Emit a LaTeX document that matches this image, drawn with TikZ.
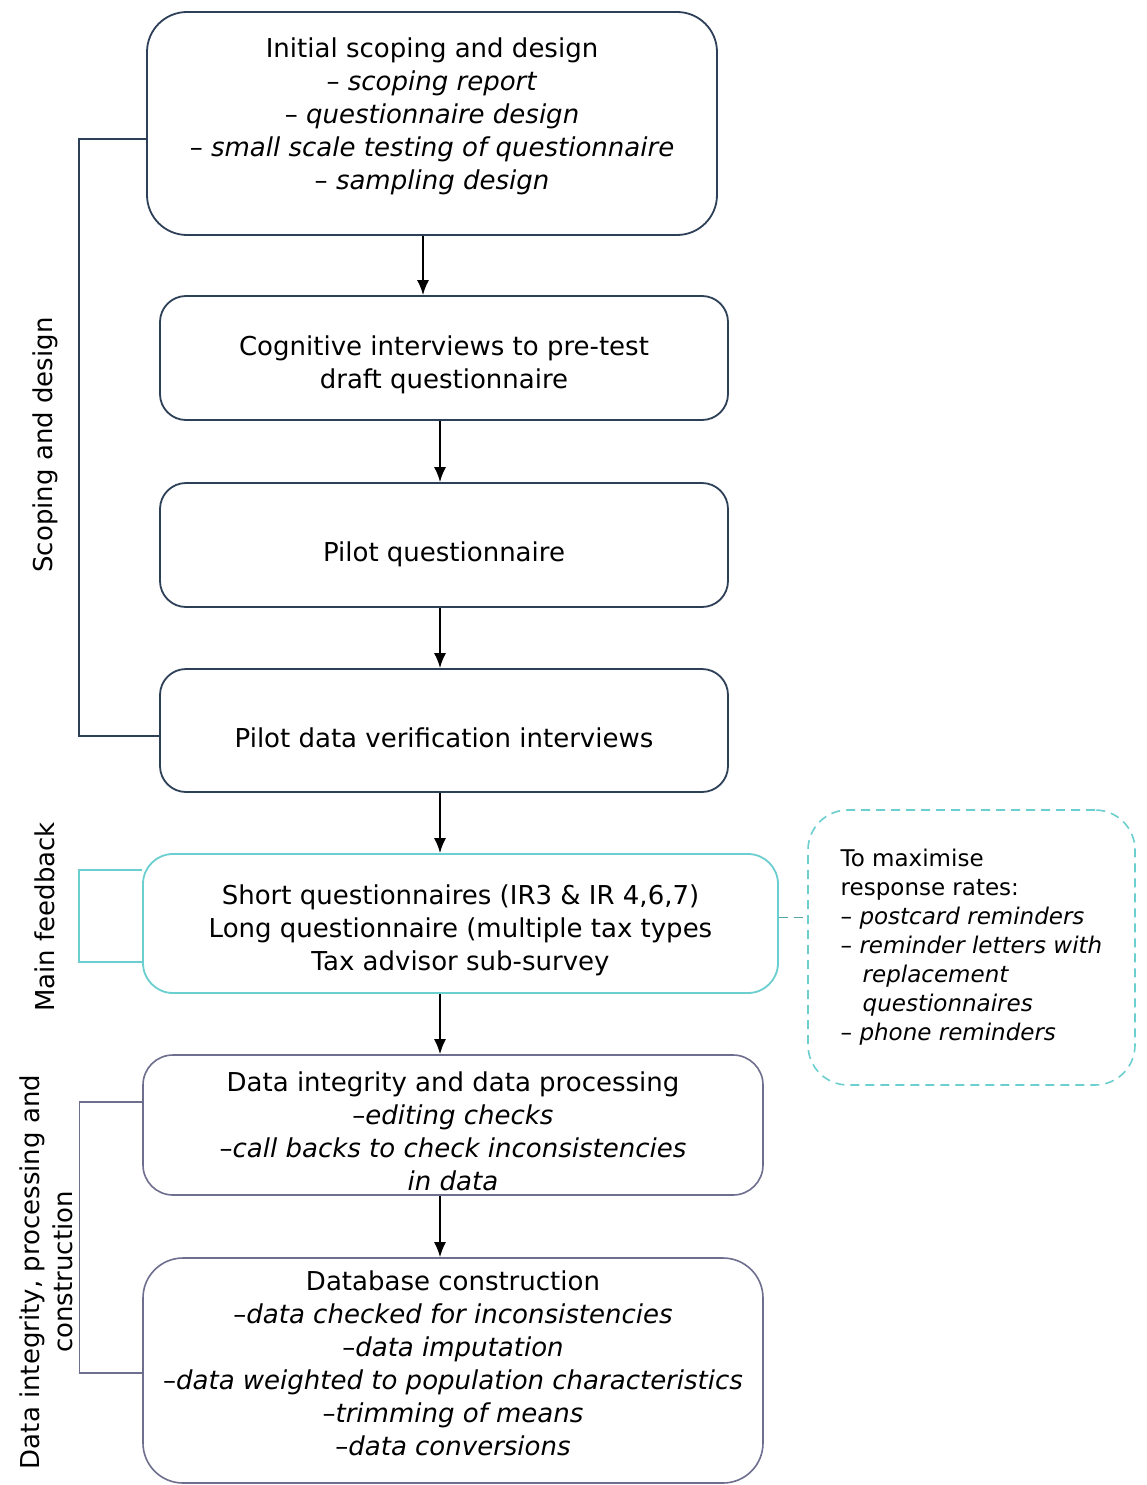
\documentclass[tikz,border=0pt]{standalone}
\usepackage{fontspec}
\setmainfont{DejaVu Sans}
\usetikzlibrary{arrows.meta}
\definecolor{slate}{HTML}{2E4057}
\definecolor{tealc}{HTML}{6CCFCF}
\definecolor{grayp}{HTML}{6E6E8E}
\begin{document}
\begin{tikzpicture}[x=1pt,y=-1pt,
  every node/.style={font=\fontsize{26pt}{33pt}\selectfont},
  box/.style={draw=slate, line width=1.8pt, rounded corners=#1, fill=white},
  box/.default=26pt,
  tbox/.style={draw=tealc, line width=1.8pt, rounded corners=30pt, fill=white},
  gbox/.style={draw=grayp, line width=1.6pt, rounded corners=#1, fill=white},
  gbox/.default=30pt,
  txt/.style={align=center, inner sep=0pt},
  arr/.style={-{Latex[length=15pt,width=12pt]}, line width=1.7pt, black},
  side/.style={rotate=90, align=center},
]
\fill[white] (0,0) rectangle (1146,1485);
\useasboundingbox (0,0) rectangle (1146,1485);

\node[box=40pt, minimum width=570pt, minimum height=223pt] (b1) at (432,123.5) {};
\node[txt] (t1) at ([yshift=7pt]b1.center)
  {Initial scoping and design\\ – \textit{scoping report}\\ – \textit{questionnaire design}\\ – \textit{small scale testing of questionnaire}\\ – \textit{sampling design}};
\node[box, minimum width=568pt, minimum height=124pt] (b2) at (444,358) {};
\node[txt] (t2) at ([yshift=-7pt]b2.center)
  {Cognitive interviews to pre-test\\ draft questionnaire};
\node[box, minimum width=568pt, minimum height=124pt] (b3) at (444,545) {};
\node[txt] (t3) at ([yshift=-9pt]b3.center) {Pilot questionnaire};
\node[box, minimum width=568pt, minimum height=123pt] (b4) at (444,730.5) {};
\node[txt] (t4) at ([yshift=-7pt]b4.center) {Pilot data verification interviews};
\node[tbox, minimum width=635pt, minimum height=139pt] (b5) at (460.5,923.5) {};
\node[txt] (t5) at ([yshift=-7pt]b5.center)
  {Short questionnaires (IR3 \& IR 4,6,7)\\ Long questionnaire (multiple tax types\\ Tax advisor sub-survey};
\node[gbox, minimum width=620pt, minimum height=140pt] (b6) at (453,1125) {};
\node[txt] (t6) at ([yshift=-6pt]b6.center)
  {Data integrity and data processing\\ –\textit{editing checks}\\ –\textit{call backs to check inconsistencies}\\ \textit{in data}};
\node[gbox=40pt, minimum width=620pt, minimum height=225pt] (b7) at (453,1370.5) {};
\node[txt] (t7) at ([yshift=7pt]b7.center)
  {Database construction\\ –\textit{data checked for inconsistencies}\\ –\textit{data imputation}\\ –\textit{data weighted to population characteristics}\\ –\textit{trimming of means}\\ –\textit{data conversions}};

\node[draw=tealc, line width=1.6pt, dash pattern=on 9pt off 6pt, rounded corners=40pt,
      minimum width=327pt, minimum height=275pt, align=left,
      font=\fontsize{23pt}{29pt}\selectfont] (tips) at (971.5,947.5)
  {To maximise\\ response rates:\\ – \textit{postcard reminders}\\ – \textit{reminder letters with}\\ \hspace*{22pt}\textit{replacement}\\ \hspace*{22pt}\textit{questionnaires}\\ – \textit{phone reminders}};

\coordinate (ax) at (440,0);
\draw[arr] ([xshift=-9pt]b1.south) -- ([xshift=-9pt]b1.south |- b2.north);
\draw[arr] (b2.south -| ax) -- (b3.north -| ax);
\draw[arr] (b3.south -| ax) -- (b4.north -| ax);
\draw[arr] (b4.south -| ax) -- (b5.north -| ax);
\draw[arr] (b5.south -| ax) -- (b6.north -| ax);
\draw[arr] (b6.south -| ax) -- (b7.north -| ax);

\draw[slate, line width=1.6pt] ([yshift=-15.5pt]b1.west) -- ++(-67pt,0) |- ([yshift=-5.5pt]b4.west);
\draw[tealc, line width=1.6pt] ([yshift=53.5pt]b5.west) -- ++(-63pt,0) |- ([yshift=-38.5pt]b5.west);
\draw[grayp, line width=1.4pt] ([yshift=23pt]b6.west) -- ++(-63pt,0) |- ([yshift=-2.5pt]b7.west);
\draw[tealc!80!black, line width=1.6pt, dash pattern=on 9pt off 6pt] ([yshift=6pt]b5.east) -- ([yshift=6pt]b5.east -| tips.west);

\node[side] (l1) at (45,445) {Scoping and design};
\node[side] (l2) at (45,917) {Main feedback};
\node[side] (l3) at (46,1272) {Data integrity, processing and\\ construction};
\end{tikzpicture}
\end{document}
